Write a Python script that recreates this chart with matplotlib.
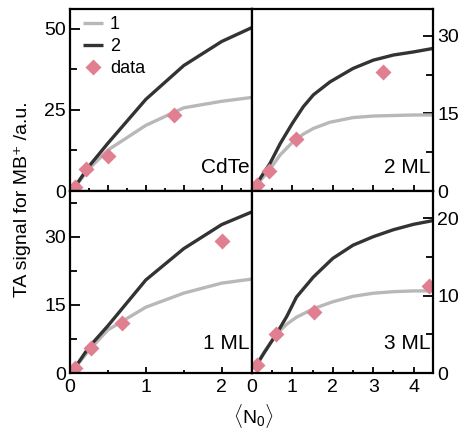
import numpy as np
import matplotlib
matplotlib.use('Agg')
import matplotlib.pyplot as plt
from matplotlib.ticker import MultipleLocator

plt.rcParams['font.family'] = ['Liberation Sans', 'DejaVu Sans']
plt.rcParams['mathtext.fontset'] = 'custom'
plt.rcParams['mathtext.rm'] = 'Liberation Sans'
plt.rcParams['mathtext.it'] = 'Liberation Sans:italic'

# CdTe (top left)
fit_x_cdte = [0.05, 0.25, 0.5, 1.0, 1.5, 2.0, 2.4]
fit1_cdte = [0.8, 6.8, 12.6, 20.2, 25.6, 27.6, 28.8]
fit2_cdte = [0.8, 7.6, 14.7, 28.2, 38.6, 46.0, 50.3]
data_x_cdte = [0.07, 0.21, 0.5, 1.37]
data_y_cdte = [1.3, 6.7, 10.8, 23.3]

# 2 ML (top right)
fit_x_2ml = [0.05, 0.25, 0.45, 0.7, 1.0, 1.27, 1.52, 1.93, 2.5, 3.0, 3.5, 4.0, 4.5]
fit1_2ml = [0.6, 2.4, 4.3, 7.0, 9.4, 11.0, 12.1, 13.3, 14.2, 14.5, 14.6, 14.7, 14.7]
fit2_2ml = [0.6, 3.0, 5.4, 9.2, 13.1, 16.3, 18.6, 21.1, 23.7, 25.3, 26.3, 26.9, 27.6]
data_x_2ml = [0.13, 0.42, 1.1, 3.24]
data_y_2ml = [1.2, 3.9, 10.0, 23.0]

# 1 ML (bottom left)
fit_x_1ml = [0.05, 0.25, 0.5, 1.0, 1.5, 2.0, 2.4]
fit1_1ml = [0.8, 5.0, 9.5, 14.5, 17.6, 19.8, 20.7]
fit2_1ml = [0.8, 5.7, 10.4, 20.5, 27.4, 32.7, 35.5]
data_x_1ml = [0.07, 0.28, 0.68, 2.0]
data_y_1ml = [1.1, 5.5, 11.0, 29.0]

# 3 ML (bottom right)
fit_x_3ml = [0.05, 0.3, 0.6, 0.86, 1.1, 1.52, 2.0, 2.5, 3.0, 3.5, 4.0, 4.5]
fit1_3ml = [0.5, 2.7, 5.0, 6.3, 7.2, 8.3, 9.2, 9.9, 10.3, 10.5, 10.6, 10.6]
fit2_3ml = [0.5, 2.6, 5.0, 7.3, 9.8, 12.4, 14.8, 16.5, 17.6, 18.5, 19.2, 19.7]
data_x_3ml = [0.13, 0.6, 1.53, 4.39]
data_y_3ml = [1.0, 5.0, 7.9, 11.2]

gray = '#b8b8b8'
dark = '#333333'
pink = '#e07f8f'

fig = plt.figure(figsize=(4.7, 4.32), dpi=100)

W, H = 470.0, 432.0
def box(x0, y0, x1, y1):
    return [x0 / W, 1 - y1 / H, (x1 - x0) / W, (y1 - y0) / H]

ax_tl = fig.add_axes(box(70, 9, 252, 191))
ax_tr = fig.add_axes(box(252, 9, 433, 191))
ax_bl = fig.add_axes(box(70, 191, 252, 373))
ax_br = fig.add_axes(box(252, 191, 433, 373))

panels = [
    (ax_tl, fit_x_cdte, fit1_cdte, fit2_cdte, data_x_cdte, data_y_cdte, 'CdTe', (0, 2.4), (0, 56), 25, 0.5, 0.25, 0.10, 'left', False),
    (ax_tr, fit_x_2ml, fit1_2ml, fit2_2ml, data_x_2ml, data_y_2ml, '2 ML', (0, 4.48), (0, 35.2), 15, 1, 0.5, 0.10, 'right', False),
    (ax_bl, fit_x_1ml, fit1_1ml, fit2_1ml, data_x_1ml, data_y_1ml, '1 ML', (0, 2.4), (0, 40.1), 15, 1, 0.5, 0.13, 'left', True),
    (ax_br, fit_x_3ml, fit1_3ml, fit2_3ml, data_x_3ml, data_y_3ml, '3 ML', (0, 4.48), (0, 23.5), 10, 1, 0.5, 0.13, 'right', True),
]

for ax, fx, f1, f2, dx, dy, name, xl, yl, ymaj, xmaj, xmin, ty, side, xlab in panels:
    ax.plot(fx, f1, color=gray, lw=2.4, label='1', solid_capstyle='butt')
    ax.plot(fx, f2, color=dark, lw=2.4, label='2', solid_capstyle='butt')
    ax.plot(dx, dy, 'D', color=pink, ms=8, mec='none', label='data')
    ax.set_xlim(*xl)
    ax.set_ylim(*yl)
    ax.yaxis.set_major_locator(MultipleLocator(ymaj))
    ax.yaxis.set_minor_locator(MultipleLocator(ymaj / 2))
    ax.xaxis.set_major_locator(MultipleLocator(xmaj))
    ax.xaxis.set_minor_locator(MultipleLocator(xmin))
    for s in ax.spines.values():
        s.set_linewidth(1.6)
    ax.tick_params(axis='both', which='both', direction='in', width=1.3, labelsize=14)
    ax.tick_params(axis='x', which='major', length=4, top=False, labelbottom=xlab, pad=4)
    ax.tick_params(axis='x', which='minor', length=2, top=False)
    ax.tick_params(axis='y', which='major', length=7, pad=3)
    ax.tick_params(axis='y', which='minor', length=5)
    if side == 'right':
        ax.yaxis.tick_right()
        ax.tick_params(axis='y', which='both', left=False, right=True, direction='in')
    else:
        ax.tick_params(axis='y', which='both', left=True, right=False)
    ax.text(0.985, ty, name, transform=ax.transAxes, ha='right', va='baseline', fontsize=15)

ax_tl.legend(loc='upper left', bbox_to_anchor=(0.07, 0.96), frameon=False, fontsize=13,
             handlelength=1.1, handletextpad=0.4, labelspacing=0.28, borderpad=0,
             borderaxespad=0, numpoints=1)

fig.text(0.047, 0.539, 'TA signal for MB\u207a /a.u.', rotation=90, ha='center', va='center', fontsize=14)
fig.text(0.54, 0.037, r'$\langle$N$_0$$\rangle$', ha='center', va='center', fontsize=14)

fig.savefig('out.png', dpi=100)
